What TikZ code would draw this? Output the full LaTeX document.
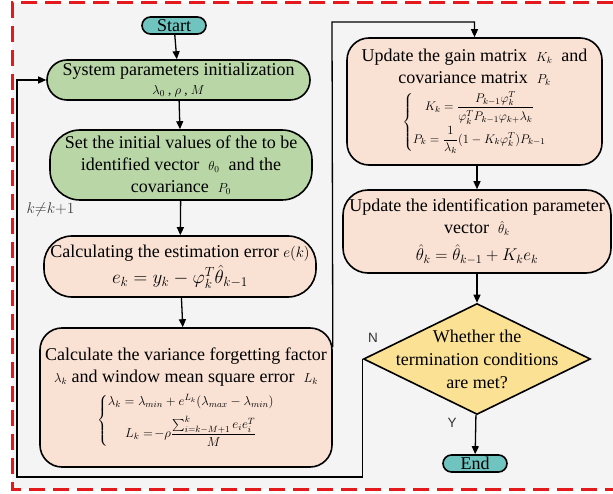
\RequirePackage{fix-cm}
\documentclass[tikz,border=0pt]{standalone}
\usepackage{amsmath}
\usepackage{fontspec}
\setmainfont{Liberation Serif}
\newfontfamily\sansf{Liberation Sans}
\usetikzlibrary{arrows.meta,shapes.geometric,calc}
\definecolor{bgc}{HTML}{F4F4F4}
\definecolor{redb}{HTML}{E3191C}
\definecolor{tealc}{HTML}{70C4C0}
\definecolor{grnc}{HTML}{B9D6A7}
\definecolor{pinkc}{HTML}{F9E1D4}
\definecolor{yelc}{HTML}{FAE194}
\newcommand\smsz{\fontsize{13}{13}\selectfont}
\begin{document}
\begin{tikzpicture}[x=1pt,y=-1pt,
  ln/.style={line width=1.3pt, draw=black},
  arr/.style={ln, -{Triangle[length=8pt,width=7pt]}},
  bx/.style={draw=black, line width=1.6pt, align=center, inner sep=0pt, text=black, font=\fontsize{18}{22}\selectfont},
  term/.style={bx, fill=tealc, rounded corners=8.5pt, minimum width=64pt, minimum height=17pt},
  lbl/.style={font=\sansf\fontsize{13.5}{14}\selectfont, text=black!80}]
\useasboundingbox (0,0) rectangle (613,494);
\fill[bgc] (12,3) rectangle (613,489);
\draw[redb, line width=3pt, dash pattern=on 16pt off 8pt] (613,3) -- (12,3) -- (12,489) -- (613,489);

\node[term] (start) at (174,25.5) {Start};
\node[bx, fill=grnc, rounded corners=20pt, minimum width=263pt, minimum height=40pt] (sys) at (178.5,80)
  {System parameters initialization\\[-3pt] {\smsz$\lambda_0$ , $\rho$ , $M$}};
\node[bx, fill=grnc, rounded corners=30pt, minimum width=262pt, minimum height=70pt] (set) at (181,165)
  {Set the initial values of the to be\\ identified vector \ {\smsz$\theta_0$}\ \ and the\\ covariance \ {\smsz$P_0$}};
\node[bx, fill=pinkc, rounded corners=28pt, minimum width=272pt, minimum height=61pt] (calc) at (180,266.5)
  {Calculating the estimation error {\fontsize{15}{15}\selectfont$e(k)$}\\[3pt] {\fontsize{19}{19}\selectfont$e_k = y_k - \varphi_k^T\hat{\theta}_{k-1}$}};
\node[bx, fill=pinkc, rounded corners=22pt, minimum width=292pt, minimum height=139pt] (var) at (186,397.5)
  {Calculate the variance forgetting factor\\ {\smsz$\lambda_k$} and window mean square error \ {\smsz$L_k$}\\[7pt]
   {\fontsize{13}{13}\selectfont$\left\{\begin{array}{@{}c@{}}
     \lambda_k=\lambda_{min}+e^{L_k}(\lambda_{max}-\lambda_{min})\\[7pt]
     L_k=\!-\rho\dfrac{\textstyle\sum_{i=k-M+1}^{k}e_ie_i^T\rule[-3pt]{0pt}{0pt}}{M}
   \end{array}\right.$}};
\node[bx, fill=pinkc, rounded corners=22pt, minimum width=255pt, minimum height=127pt] (gain) at (474.5,101.5)
  {Update the gain matrix \ {\smsz$K_k$} \ and\\ covariance matrix \ {\smsz$P_k$}\\[5pt]
   {\fontsize{12.5}{12.5}\selectfont$\left\{\begin{array}{@{}c@{}}
     K_k=\dfrac{P_{k-1}\varphi_k^T\rule[-2pt]{0pt}{0pt}}{\rule{0pt}{11pt}\varphi_k^TP_{k-1}\varphi_{k+}\lambda_k}\\[12pt]
     P_k=\dfrac{1\rule[-2pt]{0pt}{0pt}}{\rule{0pt}{9pt}\lambda_k}(1-K_k\varphi_k^T)P_{k-1}
   \end{array}\right.$}};
\node[bx, fill=pinkc, rounded corners=25pt, minimum width=268pt, minimum height=83pt] (ident) at (477,231.5)
  {Update the identification parameter\\ vector \ {\smsz$\hat\theta_k$}\\[5pt] {\fontsize{17}{17}\selectfont$\hat\theta_k=\hat\theta_{k-1}+K_ke_k$}};
\node[draw=black, line width=1.6pt, fill=yelc, diamond, aspect=2.05, inner sep=-9.5pt, minimum width=227pt, minimum height=111pt,
  align=center, font=\fontsize{18}{23}\selectfont, text=black] (dia) at (477,359) {Whether the\\termination conditions\\are met?};
\node[term] (end) at (475,463.5) {End};

\node[anchor=west, font=\fontsize{15.5}{15.5}\selectfont, text=black!75] (klab) at (23,210) {$k{\neq}k{+}1$};
\node[lbl] (nlab) at (373,338) {N};
\node[lbl] (ylab) at (452,423) {Y};

\draw[arr] (start) -- (sys);
\draw[arr] (sys) -- (set);
\draw[arr] (set) -- (calc);
\draw[arr] (calc) -- (var);
\coordinate (vo) at ($(var.north east)+(0,20)$);
\coordinate (tp) at (332,22);
\draw[arr] (vo) -- (tp) -| (gain.north);
\draw[arr] (gain.south -| ident.north) -- (ident.north);
\draw[arr] (ident) -- (dia);
\draw[arr] (dia) -- (end);
\coordinate (bot) at (17,477);
\draw[arr] (dia.west) -- (dia.west |- bot) -- (bot) |- (sys.west);
\end{tikzpicture}
\end{document}
